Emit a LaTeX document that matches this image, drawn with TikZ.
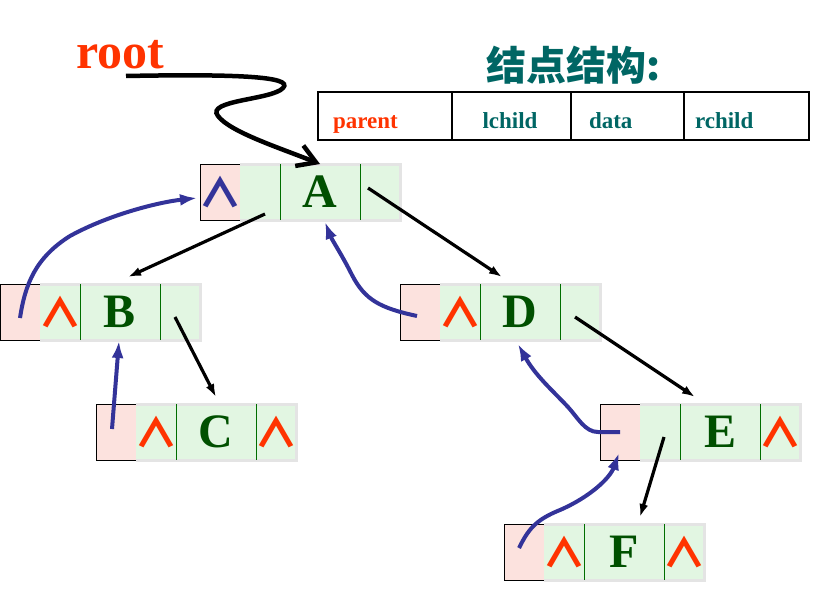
\documentclass[tikz,border=0pt]{standalone}
\usepackage{fontspec}
\setmainfont{Liberation Serif}
\newfontfamily\cjk{Noto Sans CJK SC}
\newfontfamily\nilfont{Noto Sans CJK SC}[FakeStretch=1.1]
\usetikzlibrary{arrows.meta,calc,positioning}
\definecolor{nilred}{RGB}{255,51,0}
\definecolor{linkblue}{RGB}{51,51,153}
\definecolor{cellgreen}{RGB}{226,246,226}
\definecolor{boxpink}{RGB}{252,226,222}
\definecolor{framegray}{RGB}{228,228,228}
\definecolor{darkgreen}{RGB}{0,110,0}
\definecolor{lettergreen}{RGB}{0,80,0}
\definecolor{titleteal}{RGB}{0,102,100}
\tikzset{
    pbox/.style = {draw, fill=boxpink, minimum width=40pt, minimum height=56pt, inner sep=0pt, outer sep=0pt},
    cell/.style = {fill=cellgreen, minimum width=40pt, minimum height=56pt, inner sep=0pt, outer sep=0pt},
    datacell/.style = {cell, minimum width=80pt, text=lettergreen, font=\fontsize{48}{48}\selectfont\bfseries},
    frame/.style = {framegray, line width=3pt},
    divider/.style = {darkgreen, line width=1pt},
    nil/.style = {text=nilred, inner sep=0pt, font=\nilfont\bfseries\fontsize{40}{40}\selectfont},
    field/.style = {draw, line width=1.2pt, inner ysep=0pt, outer sep=0pt, minimum height=48pt, text height=24pt, text depth=0pt, align=left, text=titleteal, font=\fontsize{23}{23}\selectfont\bfseries},
    child/.style = {-{Latex[length=13pt,width=9pt]}, line width=3.2pt},
    uplink/.style = {-{Latex[length=17pt,width=12pt]}, linkblue, line width=4pt},
    rootlink/.style = {-{Straight Barb[length=18pt,width=22pt]}, line width=4.5pt}
}
% one tree node: parent | lchild | data | rchild
\newcommand\treenode[3]{%
    \node[pbox] (#1p) at (#2) {};
    \node[cell, right=0pt of #1p] (#1l) {};
    \node[datacell, right=0pt of #1l] (#1d) {#3};
    \node[cell, right=0pt of #1d] (#1r) {};
    \draw[frame] (#1l.north west) -- (#1r.north east) -- (#1r.south east) -- (#1l.south west);
    \draw[divider] (#1l.north east) -- (#1l.south east) (#1d.north east) -- (#1d.south east);
}

\begin{document}
\begin{tikzpicture}[x=1pt,y=-1pt]
    \useasboundingbox (0,0) rectangle (832,610);

    \node[anchor=base west, inner sep=0pt, text=nilred, font=\fontsize{50}{50}\selectfont\bfseries] (root) at (76,69) {root};
    \node[anchor=base west, inner sep=0pt, text=titleteal, font=\cjk\bfseries\fontsize{40}{40}\selectfont] (title) at (486,80) {结点结构:};

    % node layout
    \node[field, text=nilred, inner xsep=15pt, text width=104pt, anchor=north west] (fparent) at (318,92) {parent};
    \node[field, inner xsep=30.5pt, text width=58pt, right=0pt of fparent] (flchild) {lchild};
    \node[field, inner xsep=18pt, text width=77pt, right=0pt of flchild] (fdata) {data};
    \node[field, inner xsep=11pt, text width=103pt, right=0pt of fdata] (frchild) {rchild};

    \treenode{A}{220,192}{A}
    \treenode{B}{20,312}{B}
    \treenode{C}{116,432}{C}
    \treenode{D}{420,312}{D}
    \treenode{E}{620,432}{E}
    \treenode{F}{524,552}{F}

    \node[nil, text=linkblue] (nilAp) at (Ap) {∧};
    \foreach \c in {Bl,Cl,Cr,Dl,Er,Fl,Fr}
        \node[nil] (nil\c) at (\c) {∧};

    % child links
    \draw[child] ([shift={(5,22)}]Al.center) -- ([shift={(8,-7)}]Bd.north);
    \draw[child] ([shift={(-12,-4)}]Ar.center) -- ([shift={(-18,-7)}]Dd.north);
    \draw[child] ([shift={(-5,5)}]Br.center) -- ([shift={(0,-7)}]Cd.north);
    \draw[child] ([shift={(-5,5)}]Dr.center) -- ([shift={(-25,-7)}]Ed.north);
    \draw[child] ([shift={(4,5)}]El.center) -- ([shift={(16,-7)}]Fd.north);

    % parent links
    \draw[uplink] ([shift={(0,6)}]Bp.center) .. controls (25,285) and (35,258) .. (70,236)
        .. controls (110,214) and (160,202) .. ([shift={(-3,6)}]Ap.west);
    \draw[uplink] ([shift={(-3,4)}]Dp.center) .. controls (380,308) and (365,300) .. (352,275)
        .. controls (342,255) and (332,240) .. ([shift={(5,2)}]Ad.south);
    \draw[uplink] ([shift={(-4,-3)}]Cp.center) -- ([shift={(-1,1)}]Bd.south);
    \draw[uplink] (Ep.center) -- ++(-22,0) .. controls (585,432) and (578,418) .. (568,407)
        .. controls (552,390) and (535,375) .. ([shift={(-2,4)}]Dd.south);
    \draw[uplink] ([shift={(-5,-4)}]Fp.center) .. controls (528,530) and (535,520) .. (560,510)
        .. controls (590,497) and (610,478) .. ([shift={(-1,-7)}]Ep.south);

    % root pointer
    \coordinate (rootstart) at (126,76);
    \draw[rootlink] (rootstart) .. controls (230,74) and (295,76) .. (283,88)
        .. controls (272,100) and (205,100) .. (218,116)
        .. controls (230,132) and (280,148) .. (Ad.north);
\end{tikzpicture}
\end{document}
